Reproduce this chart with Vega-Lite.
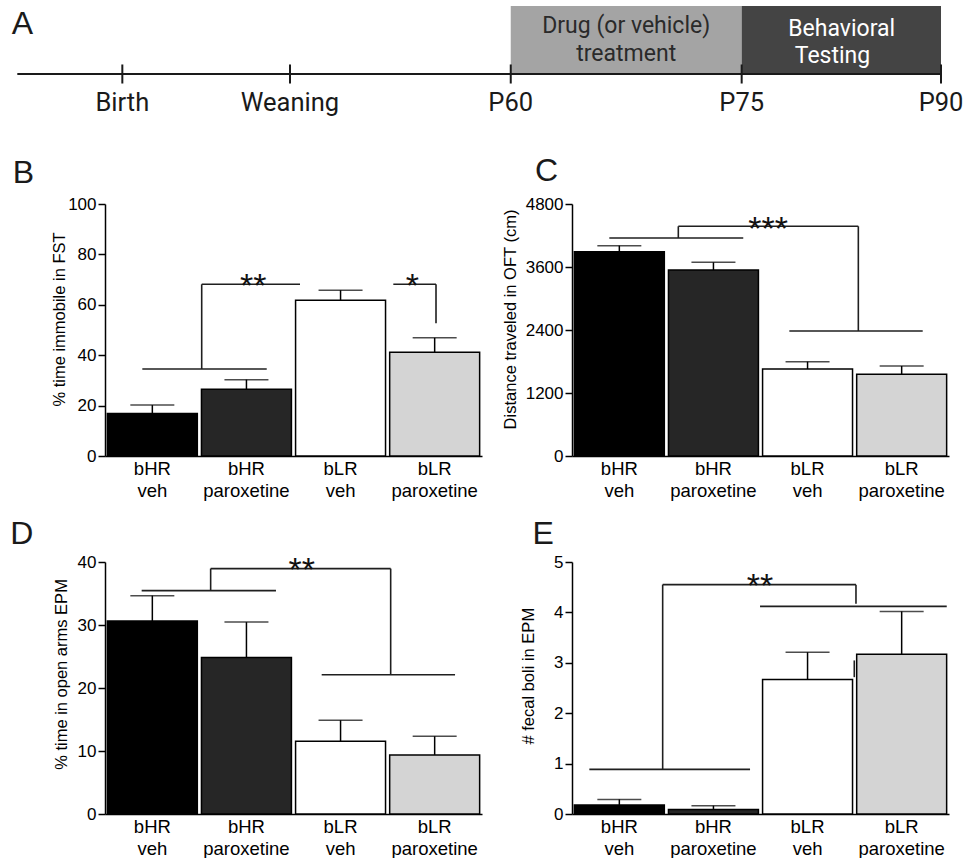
{
  "$schema": "https://vega.github.io/schema/vega-lite/v6.json",
  "padding": {"left": 10, "top": 6, "right": 0, "bottom": 0},
  "columns": 2,
  "spacing": {"row": 106, "column": 90},
  "bounds": "flush",
  "align": "each",
  "config": {
    "font": "Liberation Sans",
    "view": {"stroke": null},
    "axis": {"labelColor": "#000", "titleColor": "#000", "domainColor": "#000", "tickColor": "#000", "grid": false},
    "axisX": {"ticks": false, "labelAngle": 0, "labelFontSize": 18.5, "labelLineHeight": 21.5, "labelPadding": 3.5, "domainWidth": 1.5, "labelOverlap": false},
    "axisY": {"tickSize": 7, "tickWidth": 1.5, "domainWidth": 1.5, "labelFontSize": 17, "labelPadding": 2, "titleFontSize": 16.5, "titleFontWeight": "normal", "titleBaseline": "middle"}
  },
  "datasets": {
    "phases": [
      {"phase": "drug", "start": 53.42, "end": 78.42},
      {"phase": "testing", "start": 78.42, "end": 100}
    ],
    "span": [{"from": 0, "to": 100}],
    "milestones": [
      {"label": "Birth", "pos": 11.37},
      {"label": "Weaning", "pos": 29.52},
      {"label": "P60", "pos": 53.42},
      {"label": "P75", "pos": 78.42},
      {"label": "P90", "pos": 100}
    ],
    "phase_text": [
      {"phase": "drug", "label": "Drug (or vehicle)", "x": 65.92, "y": 0.6},
      {"phase": "drug", "label": "treatment", "x": 65.92, "y": 0.195},
      {"phase": "testing", "label": "Behavioral", "x": 89.25, "y": 0.565},
      {"phase": "testing", "label": "Testing", "x": 88.25, "y": 0.165}
    ],
    "B_bars": [
      {"group": "bHR veh", "mean": 16.9, "upper": 20.2},
      {"group": "bHR paroxetine", "mean": 26.5, "upper": 30.3},
      {"group": "bLR veh", "mean": 61.8, "upper": 65.8},
      {"group": "bLR paroxetine", "mean": 41.2, "upper": 46.9}
    ],
    "C_bars": [
      {"group": "bHR veh", "mean": 3892, "upper": 4006},
      {"group": "bHR paroxetine", "mean": 3543, "upper": 3689},
      {"group": "bLR veh", "mean": 1657, "upper": 1797},
      {"group": "bLR paroxetine", "mean": 1556, "upper": 1714}
    ],
    "D_bars": [
      {"group": "bHR veh", "mean": 30.62, "upper": 34.66},
      {"group": "bHR paroxetine", "mean": 24.85, "upper": 30.46},
      {"group": "bLR veh", "mean": 11.54, "upper": 14.88},
      {"group": "bLR paroxetine", "mean": 9.38, "upper": 12.34}
    ],
    "E_bars": [
      {"group": "bHR veh", "mean": 0.18, "upper": 0.29},
      {"group": "bHR paroxetine", "mean": 0.09, "upper": 0.165},
      {"group": "bLR veh", "mean": 2.67, "upper": 3.21},
      {"group": "bLR paroxetine", "mean": 3.17, "upper": 4.02}
    ],
    "B_lines": [
      {"x1": 0.396, "x2": 1.716, "y1": 34.52, "y2": 34.52},
      {"x1": 1.026, "x2": 1.026, "y1": 34.52, "y2": 68.13},
      {"x1": 1.026, "x2": 2.069, "y1": 68.13, "y2": 68.13},
      {"x1": 3.059, "x2": 3.512, "y1": 68.13, "y2": 68.13},
      {"x1": 3.512, "x2": 3.512, "y1": 68.13, "y2": 52.66}
    ],
    "C_lines": [
      {"x1": 0.396, "x2": 1.817, "y1": 4152, "y2": 4152},
      {"x1": 1.128, "x2": 1.128, "y1": 4152, "y2": 4375},
      {"x1": 1.128, "x2": 3.038, "y1": 4375, "y2": 4375},
      {"x1": 3.038, "x2": 3.038, "y1": 4375, "y2": 2381},
      {"x1": 2.306, "x2": 3.721, "y1": 2381, "y2": 2381}
    ],
    "D_lines": [
      {"x1": 0.389, "x2": 1.814, "y1": 35.45, "y2": 35.45},
      {"x1": 1.121, "x2": 1.121, "y1": 35.45, "y2": 38.95},
      {"x1": 1.121, "x2": 3.031, "y1": 38.95, "y2": 38.95},
      {"x1": 3.031, "x2": 3.031, "y1": 38.95, "y2": 22.1},
      {"x1": 2.299, "x2": 3.714, "y1": 22.1, "y2": 22.1}
    ],
    "E_lines": [
      {"x1": 0.184, "x2": 1.889, "y1": 0.886, "y2": 0.886},
      {"x1": 0.962, "x2": 0.962, "y1": 0.886, "y2": 4.551},
      {"x1": 0.962, "x2": 3.013, "y1": 4.551, "y2": 4.551},
      {"x1": 3.013, "x2": 3.013, "y1": 4.551, "y2": 4.173},
      {"x1": 1.995, "x2": 3.976, "y1": 4.12, "y2": 4.12},
      {"x1": 2.995, "x2": 2.995, "y1": 3.047, "y2": 2.715}
    ],
    "B_sig": [{"label": "**", "x": 1.573, "y": 63.2}, {"label": "*", "x": 3.26, "y": 63.2}],
    "C_sig": [{"label": "***", "x": 2.08, "y": 4114}],
    "D_sig": [{"label": "**", "x": 2.087, "y": 36.98}],
    "E_sig": [{"label": "**", "x": 1.995, "y": 4.304}],
    "B_letter": [{"label": "B", "x": -0.979, "y": 108.3}],
    "C_letter": [{"label": "C", "x": -0.392, "y": 5230}],
    "D_letter": [{"label": "D", "x": -1.006, "y": 42.8}],
    "E_letter": [{"label": "E", "x": -0.42, "y": 5.352}]
  },
  "concat": [
    {
      "width": 377,
      "height": 92,
      "layer": [
        {
          "data": {"name": "phases"},
          "mark": {"type": "rect"},
          "encoding": {
            "x": {"field": "start", "type": "quantitative", "scale": {"domain": [9.494, 50.308], "nice": false, "zero": false}, "axis": null},
            "x2": {"field": "end"},
            "y": {"datum": 0, "type": "quantitative", "scale": {"domain": [-0.353, 1], "nice": false, "zero": false}, "axis": null},
            "y2": {"datum": 1},
            "color": {"field": "phase", "type": "nominal", "scale": {"domain": ["drug", "testing"], "range": ["#a4a4a4", "#444444"]}, "legend": null}
          }
        },
        {
          "data": {"name": "span"},
          "mark": {"type": "rule", "color": "#1a1a1a", "strokeWidth": 2.2},
          "encoding": {
            "x": {"field": "from", "type": "quantitative", "axis": null},
            "x2": {"field": "to"},
            "y": {"datum": 0, "type": "quantitative", "axis": null}
          }
        },
        {
          "data": {"name": "milestones"},
          "mark": {"type": "rule", "color": "#1a1a1a", "strokeWidth": 2},
          "encoding": {
            "x": {"field": "pos", "type": "quantitative", "axis": null},
            "y": {"datum": -0.14, "type": "quantitative", "axis": null},
            "y2": {"datum": 0.14}
          }
        },
        {
          "data": {"name": "milestones"},
          "mark": {"type": "text", "font": "Roboto", "fontSize": 25.5, "align": "center", "baseline": "alphabetic", "color": "#1a1a1a"},
          "encoding": {
            "x": {"field": "pos", "type": "quantitative", "axis": null},
            "y": {"datum": -0.55, "type": "quantitative", "axis": null},
            "text": {"field": "label"}
          }
        },
        {
          "data": {"name": "phase_text"},
          "mark": {"type": "text", "font": "Roboto", "fontSize": 23, "align": "center", "baseline": "alphabetic"},
          "encoding": {
            "x": {"field": "x", "type": "quantitative", "axis": null},
            "y": {"field": "y", "type": "quantitative", "axis": null},
            "text": {"field": "label"},
            "color": {"field": "phase", "type": "nominal", "scale": {"domain": ["drug", "testing"], "range": ["#2a2a2a", "#ffffff"]}, "legend": null}
          }
        },
        {
          "data": {"values": [{"label": "A", "x": -0.606, "y": 0.588}]},
          "mark": {"type": "text", "fontSize": 32, "align": "left", "baseline": "alphabetic", "color": "#1a1a1a"},
          "encoding": {
            "x": {"field": "x", "type": "quantitative", "axis": null},
            "y": {"field": "y", "type": "quantitative", "axis": null},
            "text": {"field": "label"}
          }
        }
      ],
      "resolve": {"scale": {"color": "independent"}}
    },
    {
      "width": 377,
      "height": 10,
      "data": {"values": []},
      "mark": "point"
    },
    {
      "width": 377,
      "height": 252,
      "layer": [
        {
          "data": {"name": "B_bars"},
          "layer": [
            {
              "mark": {"type": "rule", "color": "#000", "strokeWidth": 1.5},
              "encoding": {
                "x": {"field": "group", "type": "nominal", "sort": null, "title": null, "scale": {"domain": ["bHR veh", "bHR paroxetine", "bLR veh", "bLR paroxetine"], "paddingInner": 0.044, "paddingOuter": 0.025}, "axis": {"labelExpr": "split(datum.label, ' ')"}},
                "y": {"field": "mean", "type": "quantitative", "title": "% time immobile in FST", "scale": {"domain": [0, 100], "nice": false}, "axis": {"values": [0, 20, 40, 60, 80, 100], "format": "d", "titleX": -46, "titleY": 115}},
                "y2": {"field": "upper"}
              }
            },
            {
              "mark": {"type": "tick", "color": "#000", "thickness": 1.5, "size": 44},
              "encoding": {
                "x": {"field": "group", "type": "nominal", "sort": null, "title": null},
                "y": {"field": "upper", "type": "quantitative", "title": "% time immobile in FST"}
              }
            },
            {
              "mark": {"type": "bar", "stroke": "#000", "strokeWidth": 1.5},
              "encoding": {
                "x": {"field": "group", "type": "nominal", "sort": null, "title": null},
                "y": {"field": "mean", "type": "quantitative", "title": "% time immobile in FST"},
                "color": {"field": "group", "type": "nominal", "scale": {"domain": ["bHR veh", "bHR paroxetine", "bLR veh", "bLR paroxetine"], "range": ["#000000", "#262626", "#ffffff", "#d4d4d4"]}, "legend": null}
              }
            }
          ]
        },
        {
          "data": {"name": "B_lines"},
          "mark": {"type": "rule", "color": "#1f1f1f", "strokeWidth": 1.6},
          "encoding": {
            "x": {"field": "x1", "type": "quantitative", "scale": {"domain": [0, 4], "nice": false}, "axis": null},
            "x2": {"field": "x2"},
            "y": {"field": "y1", "type": "quantitative", "title": "% time immobile in FST"},
            "y2": {"field": "y2"}
          }
        },
        {
          "data": {"name": "B_sig"},
          "mark": {"type": "text", "fontSize": 34, "align": "center", "baseline": "alphabetic", "color": "#111"},
          "encoding": {
            "x": {"field": "x", "type": "quantitative", "scale": {"domain": [0, 4], "nice": false}, "axis": null},
            "y": {"field": "y", "type": "quantitative", "title": "% time immobile in FST"},
            "text": {"field": "label"}
          }
        },
        {
          "data": {"name": "B_letter"},
          "mark": {"type": "text", "fontSize": 32, "align": "left", "baseline": "alphabetic", "color": "#1a1a1a"},
          "encoding": {
            "x": {"field": "x", "type": "quantitative", "scale": {"domain": [0, 4], "nice": false, "zero": false}, "axis": null},
            "y": {"field": "y", "type": "quantitative", "title": "% time immobile in FST"},
            "text": {"field": "label"}
          }
        }
      ],
      "resolve": {"scale": {"x": "independent"}}
    },
    {
      "width": 377,
      "height": 252,
      "layer": [
        {
          "data": {"name": "C_bars"},
          "layer": [
            {
              "mark": {"type": "rule", "color": "#000", "strokeWidth": 1.5},
              "encoding": {
                "x": {"field": "group", "type": "nominal", "sort": null, "title": null, "scale": {"domain": ["bHR veh", "bHR paroxetine", "bLR veh", "bLR paroxetine"], "paddingInner": 0.044, "paddingOuter": 0.025}, "axis": {"labelExpr": "split(datum.label, ' ')"}},
                "y": {"field": "mean", "type": "quantitative", "title": "Distance traveled in OFT (cm)", "scale": {"domain": [0, 4800], "nice": false}, "axis": {"values": [0, 1200, 2400, 3600, 4800], "format": "d", "titleX": -62, "titleY": 115}},
                "y2": {"field": "upper"}
              }
            },
            {
              "mark": {"type": "tick", "color": "#000", "thickness": 1.5, "size": 44},
              "encoding": {
                "x": {"field": "group", "type": "nominal", "sort": null, "title": null},
                "y": {"field": "upper", "type": "quantitative", "title": "Distance traveled in OFT (cm)"}
              }
            },
            {
              "mark": {"type": "bar", "stroke": "#000", "strokeWidth": 1.5},
              "encoding": {
                "x": {"field": "group", "type": "nominal", "sort": null, "title": null},
                "y": {"field": "mean", "type": "quantitative", "title": "Distance traveled in OFT (cm)"},
                "color": {"field": "group", "type": "nominal", "scale": {"domain": ["bHR veh", "bHR paroxetine", "bLR veh", "bLR paroxetine"], "range": ["#000000", "#262626", "#ffffff", "#d4d4d4"]}, "legend": null}
              }
            }
          ]
        },
        {
          "data": {"name": "C_lines"},
          "mark": {"type": "rule", "color": "#1f1f1f", "strokeWidth": 1.6},
          "encoding": {
            "x": {"field": "x1", "type": "quantitative", "scale": {"domain": [0, 4], "nice": false}, "axis": null},
            "x2": {"field": "x2"},
            "y": {"field": "y1", "type": "quantitative", "title": "Distance traveled in OFT (cm)"},
            "y2": {"field": "y2"}
          }
        },
        {
          "data": {"name": "C_sig"},
          "mark": {"type": "text", "fontSize": 34, "align": "center", "baseline": "alphabetic", "color": "#111"},
          "encoding": {
            "x": {"field": "x", "type": "quantitative", "scale": {"domain": [0, 4], "nice": false}, "axis": null},
            "y": {"field": "y", "type": "quantitative", "title": "Distance traveled in OFT (cm)"},
            "text": {"field": "label"}
          }
        },
        {
          "data": {"name": "C_letter"},
          "mark": {"type": "text", "fontSize": 32, "align": "left", "baseline": "alphabetic", "color": "#1a1a1a"},
          "encoding": {
            "x": {"field": "x", "type": "quantitative", "scale": {"domain": [0, 4], "nice": false, "zero": false}, "axis": null},
            "y": {"field": "y", "type": "quantitative", "title": "Distance traveled in OFT (cm)"},
            "text": {"field": "label"}
          }
        }
      ],
      "resolve": {"scale": {"x": "independent"}}
    },
    {
      "width": 377,
      "height": 252,
      "layer": [
        {
          "data": {"name": "D_bars"},
          "layer": [
            {
              "mark": {"type": "rule", "color": "#000", "strokeWidth": 1.5},
              "encoding": {
                "x": {"field": "group", "type": "nominal", "sort": null, "title": null, "scale": {"domain": ["bHR veh", "bHR paroxetine", "bLR veh", "bLR paroxetine"], "paddingInner": 0.044, "paddingOuter": 0.025}, "axis": {"labelExpr": "split(datum.label, ' ')"}},
                "y": {"field": "mean", "type": "quantitative", "title": "% time in open arms EPM", "scale": {"domain": [0, 40], "nice": false}, "axis": {"values": [0, 10, 20, 30, 40], "format": "d", "titleX": -43.3, "titleY": 112}},
                "y2": {"field": "upper"}
              }
            },
            {
              "mark": {"type": "tick", "color": "#000", "thickness": 1.5, "size": 44},
              "encoding": {
                "x": {"field": "group", "type": "nominal", "sort": null, "title": null},
                "y": {"field": "upper", "type": "quantitative", "title": "% time in open arms EPM"}
              }
            },
            {
              "mark": {"type": "bar", "stroke": "#000", "strokeWidth": 1.5},
              "encoding": {
                "x": {"field": "group", "type": "nominal", "sort": null, "title": null},
                "y": {"field": "mean", "type": "quantitative", "title": "% time in open arms EPM"},
                "color": {"field": "group", "type": "nominal", "scale": {"domain": ["bHR veh", "bHR paroxetine", "bLR veh", "bLR paroxetine"], "range": ["#000000", "#262626", "#ffffff", "#d4d4d4"]}, "legend": null}
              }
            }
          ]
        },
        {
          "data": {"name": "D_lines"},
          "mark": {"type": "rule", "color": "#1f1f1f", "strokeWidth": 1.6},
          "encoding": {
            "x": {"field": "x1", "type": "quantitative", "scale": {"domain": [0, 4], "nice": false}, "axis": null},
            "x2": {"field": "x2"},
            "y": {"field": "y1", "type": "quantitative", "title": "% time in open arms EPM"},
            "y2": {"field": "y2"}
          }
        },
        {
          "data": {"name": "D_sig"},
          "mark": {"type": "text", "fontSize": 34, "align": "center", "baseline": "alphabetic", "color": "#111"},
          "encoding": {
            "x": {"field": "x", "type": "quantitative", "scale": {"domain": [0, 4], "nice": false}, "axis": null},
            "y": {"field": "y", "type": "quantitative", "title": "% time in open arms EPM"},
            "text": {"field": "label"}
          }
        },
        {
          "data": {"name": "D_letter"},
          "mark": {"type": "text", "fontSize": 32, "align": "left", "baseline": "alphabetic", "color": "#1a1a1a"},
          "encoding": {
            "x": {"field": "x", "type": "quantitative", "scale": {"domain": [0, 4], "nice": false, "zero": false}, "axis": null},
            "y": {"field": "y", "type": "quantitative", "title": "% time in open arms EPM"},
            "text": {"field": "label"}
          }
        }
      ],
      "resolve": {"scale": {"x": "independent"}}
    },
    {
      "width": 377,
      "height": 252,
      "layer": [
        {
          "data": {"name": "E_bars"},
          "layer": [
            {
              "mark": {"type": "rule", "color": "#000", "strokeWidth": 1.5},
              "encoding": {
                "x": {"field": "group", "type": "nominal", "sort": null, "title": null, "scale": {"domain": ["bHR veh", "bHR paroxetine", "bLR veh", "bLR paroxetine"], "paddingInner": 0.044, "paddingOuter": 0.025}, "axis": {"labelExpr": "split(datum.label, ' ')"}},
                "y": {"field": "mean", "type": "quantitative", "title": "# fecal boli in EPM", "scale": {"domain": [0, 5], "nice": false}, "axis": {"values": [0, 1, 2, 3, 4, 5], "format": "d", "titleX": -43.7, "titleY": 113.7}},
                "y2": {"field": "upper"}
              }
            },
            {
              "mark": {"type": "tick", "color": "#000", "thickness": 1.5, "size": 44},
              "encoding": {
                "x": {"field": "group", "type": "nominal", "sort": null, "title": null},
                "y": {"field": "upper", "type": "quantitative", "title": "# fecal boli in EPM"}
              }
            },
            {
              "mark": {"type": "bar", "stroke": "#000", "strokeWidth": 1.5},
              "encoding": {
                "x": {"field": "group", "type": "nominal", "sort": null, "title": null},
                "y": {"field": "mean", "type": "quantitative", "title": "# fecal boli in EPM"},
                "color": {"field": "group", "type": "nominal", "scale": {"domain": ["bHR veh", "bHR paroxetine", "bLR veh", "bLR paroxetine"], "range": ["#000000", "#262626", "#ffffff", "#d4d4d4"]}, "legend": null}
              }
            }
          ]
        },
        {
          "data": {"name": "E_lines"},
          "mark": {"type": "rule", "color": "#1f1f1f", "strokeWidth": 1.6},
          "encoding": {
            "x": {"field": "x1", "type": "quantitative", "scale": {"domain": [0, 4], "nice": false}, "axis": null},
            "x2": {"field": "x2"},
            "y": {"field": "y1", "type": "quantitative", "title": "# fecal boli in EPM"},
            "y2": {"field": "y2"}
          }
        },
        {
          "data": {"name": "E_sig"},
          "mark": {"type": "text", "fontSize": 34, "align": "center", "baseline": "alphabetic", "color": "#111"},
          "encoding": {
            "x": {"field": "x", "type": "quantitative", "scale": {"domain": [0, 4], "nice": false}, "axis": null},
            "y": {"field": "y", "type": "quantitative", "title": "# fecal boli in EPM"},
            "text": {"field": "label"}
          }
        },
        {
          "data": {"name": "E_letter"},
          "mark": {"type": "text", "fontSize": 32, "align": "left", "baseline": "alphabetic", "color": "#1a1a1a"},
          "encoding": {
            "x": {"field": "x", "type": "quantitative", "scale": {"domain": [0, 4], "nice": false, "zero": false}, "axis": null},
            "y": {"field": "y", "type": "quantitative", "title": "# fecal boli in EPM"},
            "text": {"field": "label"}
          }
        }
      ],
      "resolve": {"scale": {"x": "independent"}}
    }
  ]
}
